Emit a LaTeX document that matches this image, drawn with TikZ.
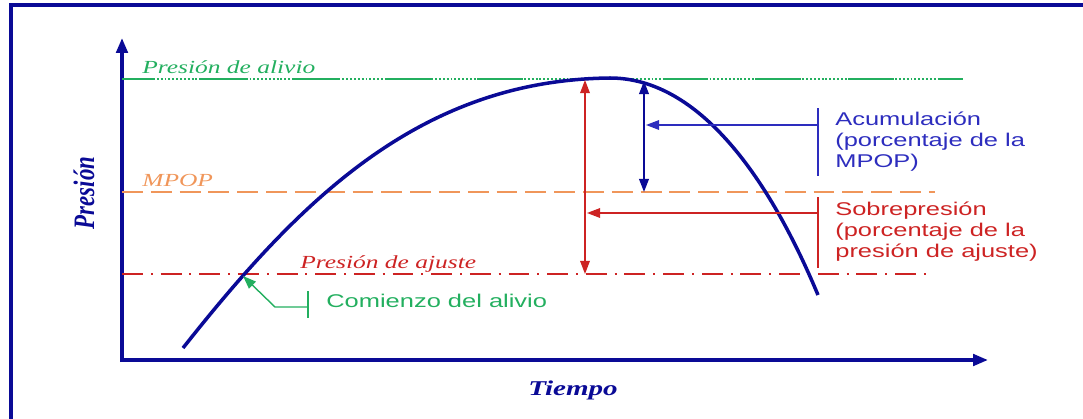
\documentclass[tikz,border=0pt]{standalone}
\usepackage{fontspec}
\setmainfont{Liberation Serif}
\newfontfamily\widesans[FakeStretch=1.38]{Liberation Sans}
\newfontfamily\wideserif[FakeStretch=1.38]{Liberation Serif}
\usepackage{xcolor}
\usetikzlibrary{arrows.meta, calc}
\definecolor{navyline}{RGB}{10,10,150}
\definecolor{alivioc}{RGB}{35,175,95}
\definecolor{mpopc}{RGB}{240,150,90}
\definecolor{ajustec}{RGB}{205,35,35}
\definecolor{acumc}{RGB}{45,45,190}

\begin{document}
\begin{tikzpicture}[x=0.02cm, y=-0.02cm, >={Triangle[length=7.5pt, width=5.5pt]},
  axisline/.style={navyline, line width=2pt, -{Triangle[length=8.5pt, width=6.5pt]}},
  level/.style={line width=1.1pt},
  levelname/.style={font=\wideserif\itshape\fontsize{10.5}{12}\selectfont, anchor=base west, inner sep=0pt},
  note/.style={font=\widesans\fontsize{10.5}{11.9}\selectfont, align=left, anchor=north west, inner sep=0pt},
  axisname/.style={font=\wideserif\bfseries\itshape\fontsize{12}{14}\selectfont, text=navyline, inner sep=0pt}]
  \useasboundingbox (0,0) rectangle (1083,419);
  % frame, cut at the right and bottom
  \draw[navyline, line width=2.3pt] (1083,5) -- (11,5) -- (11,419);

  % axes
  \coordinate (O) at (122,360);
  \coordinate (ytip) at (122,38);
  \coordinate (xtip) at (988,360);
  \draw[axisline] ($(O)+(0,2)$) -- (ytip);
  \draw[axisline] ($(O)+(-2,0)$) -- (xtip);
  \node[axisname, font=\rmfamily\bfseries\itshape\fontsize{13}{15}\selectfont, rotate=90] (presion) at (84,193) {\scalebox{1}[1.3]{Presión}};
  \node[axisname, anchor=base west] (tiempo) at (528,395) {Tiempo};

  % pressure levels
  \coordinate (alivioL) at (122,79);  \coordinate (alivioR) at (963,79);
  \coordinate (mpopL) at (122,192);   \coordinate (mpopR) at (935,192);
  \coordinate (ajusteL) at (122,274); \coordinate (ajusteR) at (933,274);
  \draw[level, alivioc, dash pattern=on 26.1pt off 26.6pt, dash phase=8.5pt] (alivioL) -- (alivioR);
  \draw[level, alivioc, dash pattern=on 1.1pt off 1.1pt] (alivioL) -- (alivioR);
  \draw[level, mpopc, dash pattern=on 11.9pt off 4.5pt] (mpopL) -- (mpopR);
  \draw[level, ajustec, dash pattern=on 11.9pt off 4.5pt on 1.1pt off 4.5pt] (ajusteL) -- (ajusteR);
  \node[levelname, text=alivioc] (alivio) at (142,73) {Presión de alivio};
  \node[levelname, text=mpopc] (mpop) at (142,186) {MPOP};
  \node[levelname, text=ajustec] (ajuste) at (300,268) {Presión de ajuste};

  % pressure curve
  \coordinate (cstart) at (183,348);
  \coordinate (cpeak) at (610,78);
  \coordinate (cend) at (818,295);
  \draw[navyline, line width=2pt] (cstart) .. controls (300,200) and (420,80) .. (cpeak)
    .. controls (700,78) and (770,180) .. (cend);

  % sobrepresion
  \coordinate (sobreTop) at (585,80);
  \coordinate (sobreBot) at (585,274);
  \draw[<->, ajustec, line width=0.8pt] (sobreTop) -- (sobreBot);
  \coordinate (sobreBar) at (818,213);
  \coordinate (sobrePt) at (587,213);
  \draw[->, ajustec, line width=0.8pt] (sobreBar) -- (sobrePt);
  \draw[ajustec, line width=0.8pt] (818,197) -- (818,268);
  \node[note, text=ajustec] (sobre) at (835,202) {Sobrepresión\\(porcentaje de la\\presión de ajuste)};

  % acumulacion
  \coordinate (acumTop) at (644,81);
  \coordinate (acumBot) at (644,192);
  \draw[<->, navyline, line width=1.2pt] (acumTop) -- (acumBot);
  \coordinate (acumBar) at (818,125);
  \coordinate (acumPt) at (646,125);
  \draw[->, acumc, line width=0.8pt] (acumBar) -- (acumPt);
  \draw[acumc, line width=0.8pt] (818,108) -- (818,176);
  \node[note, text=acumc] (acum) at (835,112) {Acumulación\\(porcentaje de la\\MPOP)};

  % comienzo del alivio
  \coordinate (cTip) at (243,276);
  \coordinate (cKnee) at (275,307);
  \coordinate (cBar) at (308,307);
  \draw[<-, alivioc, line width=0.8pt] (cTip) -- (cKnee) -- (cBar);
  \draw[alivioc, line width=0.8pt] (308,291) -- (308,318);
  \node[note, text=alivioc, anchor=base west] (comienzo) at (326,307) {Comienzo del alivio};
\end{tikzpicture}
\end{document}
